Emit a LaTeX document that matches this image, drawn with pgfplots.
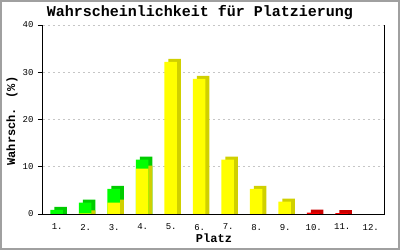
\documentclass[border=0pt]{standalone}
\usepackage{pgfplots}
\pgfplotsset{compat=1.18}
\usepackage{pgfplotstable}
\usepackage{fontspec}
\setmainfont{Liberation Mono}
\definecolor{yel}{HTML}{FFFF00}
\definecolor{dyel}{HTML}{D0D000}
\definecolor{grn}{HTML}{00FF00}
\definecolor{dgrn}{HTML}{00CC00}
\definecolor{rd}{HTML}{FF0000}
\definecolor{drd}{HTML}{CC0000}
\definecolor{frame}{HTML}{A0A0A0}
\pgfplotstableread{
x tot
1 0.85
2 2.4
3 5.3
4 11.5
}\greentab
\pgfplotstableread{
x v
2 0.15
3 2.4
4 9.6
5 32.2
6 28.6
7 11.5
8 5.3
9 2.6
}\yellowtab
\pgfplotstableread{
x v
10 0.3
11 0.2
}\redtab
\begin{document}
\begin{tikzpicture}[x=1pt,y=1pt]
\useasboundingbox (0,0) rectangle (400,250);
\fill[white] (0,0) rectangle (400,250);
\draw[frame, line width=2pt] (1,1) rectangle (399,249);
\begin{axis}[
  at={(43pt,36pt)}, anchor=south west,
  scale only axis, width=342pt, height=189pt,
  xmin=0.5, xmax=12.5, ymin=0, ymax=40,
  axis x line*=bottom, axis y line*=left,
  axis line style={line width=1pt, -},
  xtick={1,...,12},
  xticklabels={1.,2.,3.,4.,5.,6.,7.,8.,9.,10.,11.,12.},
  ytick={0,10,20,30,40},
  major x tick style={draw=none},
  major y tick style={line width=1pt, black},
  tick align=outside, major tick length=5pt,
  ymajorgrids,
  major grid style={gray!45, dash pattern=on 2pt off 3pt, line width=0.8pt},
  tick label style={font=\fontsize{9}{10}\selectfont},
  /pgf/number format/assume math mode=true,
  xticklabel style={yshift=-1.5pt},
  yticklabel style={xshift=-1pt},
  ybar, bar width=12.5pt,
  clip=false,
]
% back (side/top) faces, raised 3px (0.64 units) at the top
\addplot[fill=dgrn, draw=none, bar shift=3.5pt] table[x=x,y expr=\thisrow{tot}+0.64]{\greentab};
\addplot[fill=dyel, draw=none, bar shift=3.5pt] table[x=x,y expr=\thisrow{v}+0.64]{\yellowtab};
\addplot[fill=drd, draw=none, bar shift=3.5pt] table[x=x,y expr=\thisrow{v}+0.64]{\redtab};
% front faces
\addplot[fill=grn, draw=none, bar shift=-0.5pt] table[x=x,y=tot]{\greentab};
\addplot[fill=yel, draw=none, bar shift=-0.5pt] table[x=x,y=v]{\yellowtab};
\addplot[fill=rd, draw=none, bar shift=-0.5pt] table[x=x,y=v]{\redtab};
\draw[line width=1pt] (rel axis cs:1,0) -- (rel axis cs:1,1);
\draw[line width=1pt] (rel axis cs:0,0) -- (rel axis cs:1,0);
\end{axis}
\node[font=\fontsize{15}{18}\selectfont\bfseries] at (200,237) {Wahrscheinlichkeit für Platzierung};
\node[font=\fontsize{12}{14}\selectfont\bfseries] at (214,12) {Platz};
\node[font=\fontsize{12}{14}\selectfont\bfseries, rotate=90] at (12,129) {Wahrsch. (\%)};
\end{tikzpicture}
\end{document}
